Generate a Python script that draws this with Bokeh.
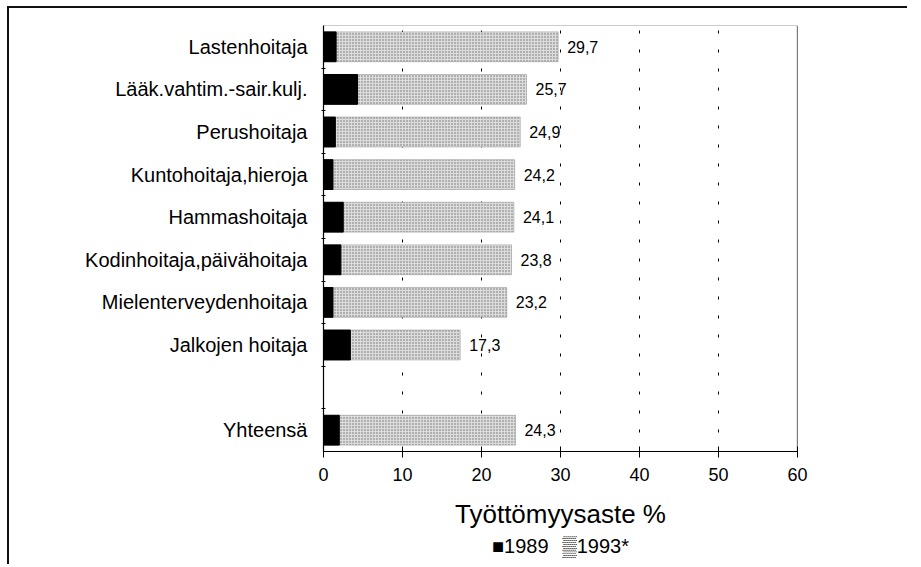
from bokeh.plotting import figure
from bokeh.models import ColumnDataSource, FixedTicker, Range1d, Span, Title
from bokeh.core.properties import value
from bokeh.embed import file_html
from bokeh.resources import INLINE

# ---- data (top to bottom; "" is an empty spacer row) ----
categories = ["Lastenhoitaja", "Lääk.vahtim.-sair.kulj.", "Perushoitaja",
              "Kuntohoitaja,hieroja", "Hammashoitaja", "Kodinhoitaja,päivähoitaja",
              "Mielenterveydenhoitaja", "Jalkojen hoitaja", "", "Yhteensä"]
values_1993 = [29.7, 25.7, 24.9, 24.2, 24.1, 23.8, 23.2, 17.3, None, 24.3]
values_1989 = [1.6, 4.3, 1.5, 1.2, 2.5, 2.2, 1.2, 3.4, None, 2.0]
x_ticks = [0, 10, 20, 30, 40, 50, 60]
grid_ticks = [10, 20, 30, 40, 50]
legend_labels = ["1989", "1993*"]
legend_marks = ["\u25A0", "\u2592"]
x_title = "Työttömyysaste %"

FONT = "Liberation Sans"
n = len(categories)
ypos = [n - 1 - i for i in range(n)]
keep = [i for i, c in enumerate(categories) if c != ""]

src = ColumnDataSource(dict(
    y=[ypos[i] for i in keep],
    v93=[values_1993[i] for i in keep],
    v89=[values_1989[i] for i in keep],
    lbl=[f"{values_1993[i]:.1f}".replace(".", ",") for i in keep],
))

p = figure(width=900, height=558, output_backend="svg", toolbar_location=None,
           x_range=Range1d(0, 60), y_range=Range1d(-0.5, n - 0.5),
           min_border_left=314, min_border_right=112, min_border_top=17,
           min_border_bottom=115)
p.styles = {"margin-left": "7px", "margin-top": "6px",
            "border-top": "2px solid #111", "border-left": "2px solid #111"}
p.outline_line_color = None
p.background_fill_color = "white"

# grid
p.ygrid.visible = False
p.xgrid.ticker = FixedTicker(ticks=grid_ticks)
p.xgrid.grid_line_color = "black"
p.xgrid.grid_line_dash = "3 16"
p.xgrid.grid_line_width = 1

# frame top (dotted) and right (solid)
p.add_layout(Span(location=n - 0.5, dimension="width", line_color="#333",
                  line_dash="1 1", line_width=1))
p.add_layout(Span(location=60, dimension="height", line_color="black",
                  line_width=1.2))

r93 = p.hbar(y="y", left=0, right="v93", height=0.7, source=src,
             fill_color="#dcdcdc", hatch_pattern="dot", hatch_scale=3,
             hatch_color="#6e6e6e", hatch_weight=1, line_color="#9a9a9a",
             line_width=0.6)
r89 = p.hbar(y="y", left=0, right="v89", height=0.7, source=src,
             fill_color="black", line_color="black")

p.text(x="v93", y="y", text="lbl", source=src, x_offset=9,
       text_baseline="middle", text_align="left",
       text_font=value(FONT), text_font_size="16px", text_color="black")

# x axis
xa = p.xaxis[0]
xa.ticker = FixedTicker(ticks=x_ticks)
xa.minor_tick_line_color = None
xa.major_tick_in = 5
xa.major_tick_out = 6
xa.axis_line_color = "black"
xa.axis_line_width = 1.2
xa.major_tick_line_color = "black"
xa.major_label_standoff = 10
xa.major_label_text_font = FONT
xa.major_label_text_font_size = "18px"
xa.major_label_text_color = "black"
xa.axis_label = x_title
xa.axis_label_text_font = FONT
xa.axis_label_text_font_size = "26px"
xa.axis_label_text_font_style = "normal"
xa.axis_label_text_color = "black"
xa.axis_label_standoff = 15

# y axis
ya = p.yaxis[0]
ya.ticker = FixedTicker(ticks=[ypos[i] for i in keep],
                        minor_ticks=[k + 0.5 for k in range(n - 1)])
ya.major_label_overrides = {ypos[i]: categories[i] for i in keep}
ya.major_tick_line_color = None
ya.minor_tick_in = 2
ya.minor_tick_out = 2
ya.minor_tick_line_color = "black"
ya.axis_line_color = "black"
ya.axis_line_width = 1.2
ya.major_label_standoff = 10
ya.major_label_text_font = FONT
ya.major_label_text_font_size = "20px"
ya.major_label_text_color = "black"

# legend line below the axis title
legend_text = "\u2002\u2009".join(m + l for m, l in zip(legend_marks, legend_labels))
p.add_layout(Title(text=legend_text, align="center", text_font=FONT,
                   text_font_size="20px", text_font_style="normal",
                   text_color="black", standoff=2, offset=0), "below")

open("out.html", "w").write(file_html(p, INLINE))
